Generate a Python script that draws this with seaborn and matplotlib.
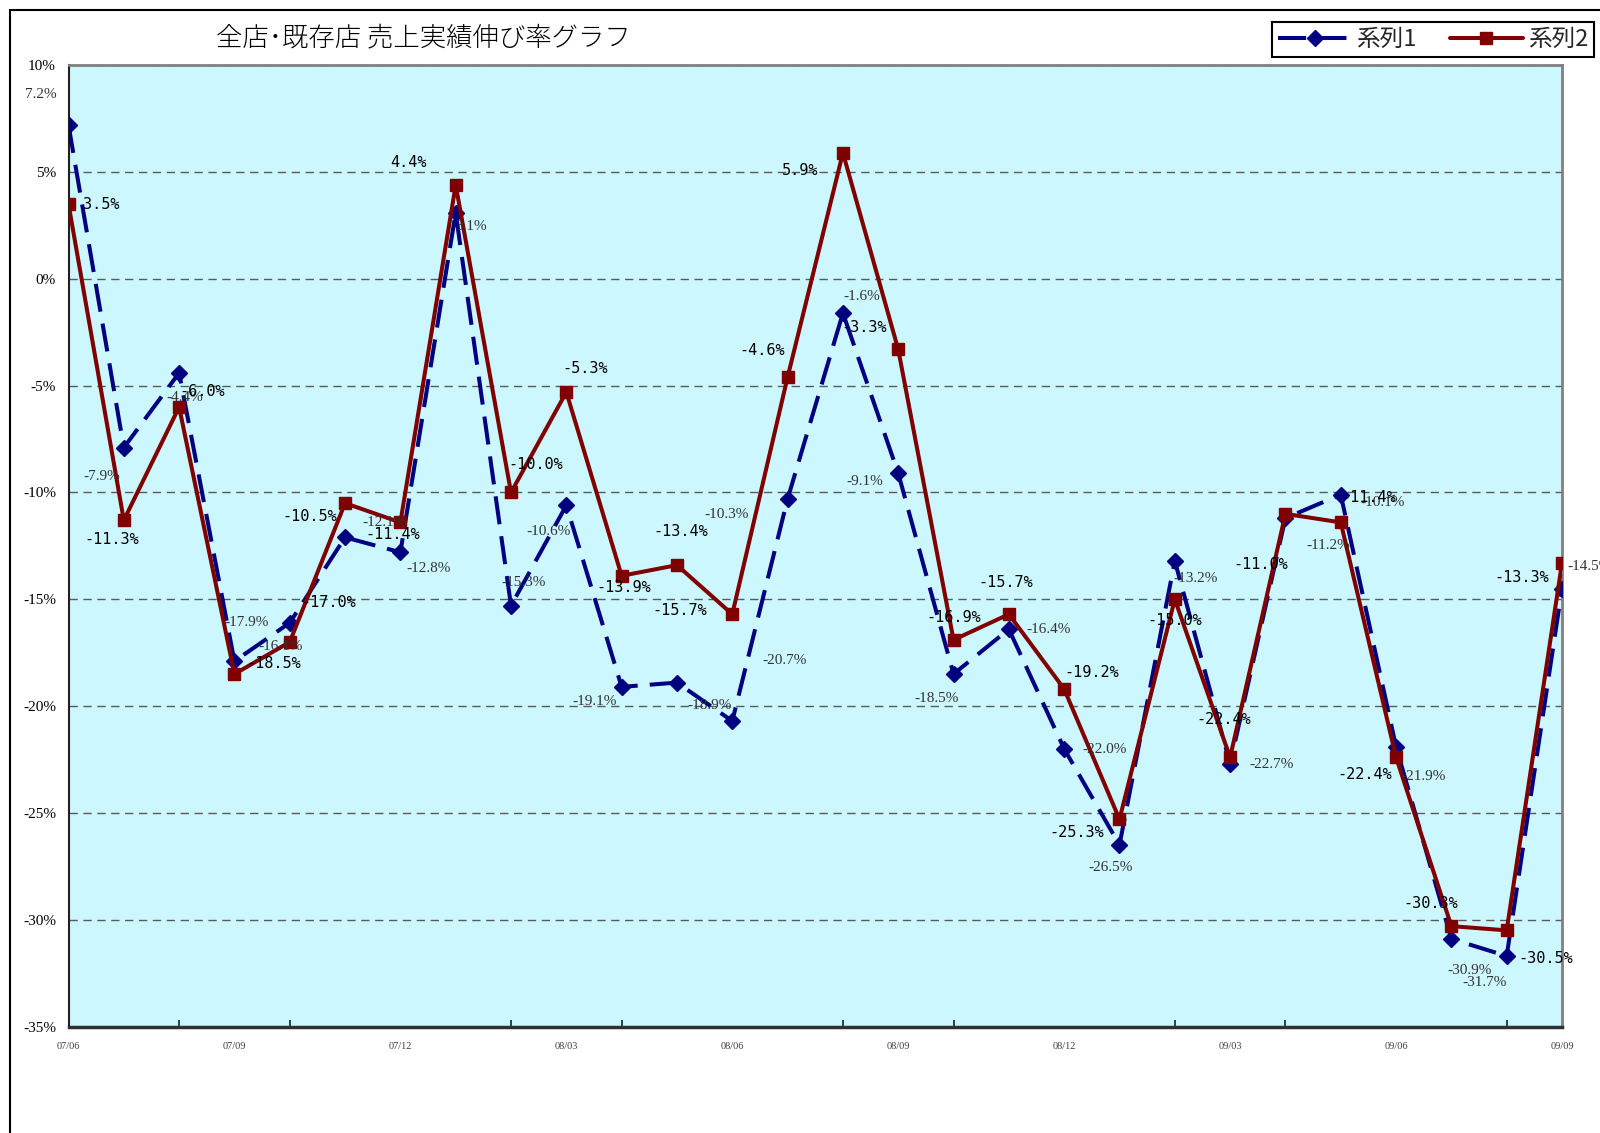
import matplotlib
matplotlib.use("Agg")
import matplotlib.pyplot as plt
import seaborn as sns
import pandas as pd
from matplotlib.patches import Rectangle
from matplotlib.lines import Line2D

# ---------------- data ----------------
months = ["07/06", "07/07", "07/08", "07/09", "07/10", "07/11", "07/12",
          "08/01", "08/02", "08/03", "08/04", "08/05", "08/06", "08/07",
          "08/08", "08/09", "08/10", "08/11", "08/12", "09/01", "09/02",
          "09/03", "09/04", "09/05", "09/06", "09/07", "09/08", "09/09"]
series1 = [7.2, -7.9, -4.4, -17.9, -16.1, -12.1, -12.8, 3.1, -15.3, -10.6,
           -19.1, -18.9, -20.7, -10.3, -1.6, -9.1, -18.5, -16.4, -22.0, -26.5,
           -13.2, -22.7, -11.2, -10.1, -21.9, -30.9, -31.7, -14.5]
series2 = [3.5, -11.3, -6.0, -18.5, -17.0, -10.5, -11.4, 4.4, -10.0, -5.3,
           -13.9, -13.4, -15.7, -4.6, 5.9, -3.3, -16.9, -15.7, -19.2, -25.3,
           -15.0, -22.4, -11.0, -11.4, -22.4, -30.3, -30.5, -13.3]
series_names = ["系列1", "系列2"]
title = "全店･既存店 売上実績伸び率グラフ"
y_ticks = [10, 5, 0, -5, -10, -15, -20, -25, -30, -35]

# label offsets (pixels) -- styling only
s1_off = [(-28, 31), (-22, -29), (6, -25), (12, 39), (-9, -24), (39, 15), (28, -16),
          (15, -14), (13, 23), (-18, -26), (-27, -15), (33, -23), (52, 61), (-61, -16),
          (19, 17), (-33, -8), (-17, -24), (40, 0), (40, -1), (-9, -23), (21, -18),
          (41, -1), (43, -27), (42, -8), (28, -30), (18, -32), (-22, -26), (28, 22)]
s2_off = [(33, 0), (-12, -19), (23, 16), (39, 11), (39, 40), (-35, -13), (-8, -12),
          (-47, 22), (25, 28), (19, 24), (2, -12), (4, 34), (-53, 4), (-25, 27),
          (-43, -18), (-34, 22), (0, 22), (-3, 32), (28, 17), (-43, -13), (0, -21),
          (-6, 38), (-25, -51), (28, 25), (-31, -17), (-21, 23), (39, -28), (-40, -15)]

# ---------------- style ----------------
sns.set_theme(style="white")
plt.rcParams['font.family'] = ['Noto Sans CJK JP', 'DejaVu Sans']

W, H = 1600, 1133
fig = plt.figure(figsize=(W / 100, H / 100), dpi=100)
L, R, T, B = 68.5, 1562, 65.3, 1026.5
ax = fig.add_axes([L / W, 1 - B / H, (R - L) / W, (B - T) / H])
ax.set_facecolor("#CCF7FF")

df = pd.DataFrame({"idx": list(range(len(months))), "month": months,
                   "s1": series1, "s2": series2})

sns.lineplot(data=df, x="idx", y="s1", ax=ax, color="#000080", marker="D",
             markersize=8, linewidth=2.9, linestyle=(0, (7, 3)),
             markeredgecolor="#000080", markeredgewidth=1, zorder=3)
sns.lineplot(data=df, x="idx", y="s2", ax=ax, color="#800000", marker="s",
             markersize=9, linewidth=2.9, markeredgecolor="#800000",
             markeredgewidth=1, zorder=4)

ax.set_xlim(0, len(months) - 1)
ax.set_ylim(-35, 10)
ax.set_xlabel("")
ax.set_ylabel("")

# grid
ax.set_axisbelow(True)
ax.xaxis.grid(False)
ax.yaxis.grid(True, linestyle=(0, (6, 4)), color="#5a5a5a", linewidth=1.0)

# spines
for s in ["top", "right"]:
    ax.spines[s].set_color("#808080")
    ax.spines[s].set_linewidth(2)
ax.spines["left"].set_color("#202020")
ax.spines["left"].set_linewidth(1.5)
ax.spines["bottom"].set_color("#303030")
ax.spines["bottom"].set_linewidth(2.5)

# y ticks
ax.set_yticks(y_ticks)
ax.set_yticklabels([f"{v}%" for v in y_ticks], fontfamily="Liberation Serif",
                   fontsize=11, color="black")
ax.tick_params(axis="y", length=0, pad=9)

# x ticks
lab_pos = list(range(0, len(months), 3))
ax.set_xticks(lab_pos)
ax.set_xticklabels([months[i] for i in lab_pos], fontfamily="Liberation Serif",
                   fontsize=7.5, color="#404040")
ax.set_xticks(list(range(0, len(months), 2)), minor=True)
ax.tick_params(axis="x", which="major", length=0, pad=11)
ax.tick_params(axis="x", which="minor", length=5, width=1.2, direction="in",
               color="#202020", bottom=True)

# data labels
for i, v in enumerate(series1):
    dx, dy = s1_off[i]
    ax.annotate(f"{v:.1f}%", xy=(i, v), xytext=(dx, dy), textcoords="offset pixels",
                ha="center", va="center", fontsize=11, color="#333333",
                fontfamily="Liberation Serif", zorder=6, annotation_clip=False)
for i, v in enumerate(series2):
    dx, dy = s2_off[i]
    ax.annotate(f"{v:.1f}%", xy=(i, v), xytext=(dx, dy), textcoords="offset pixels",
                ha="center", va="center", fontsize=11, color="black",
                fontfamily="DejaVu Sans Mono", zorder=6, annotation_clip=False)

# title
fig.text(423.5 / W, 1 - 37.8 / H, title, ha="center", va="center", fontsize=19,
         color="black", fontweight="light")

# legend
handles = [
    Line2D([], [], color="#000080", marker="D", markersize=8, linewidth=2.9,
           linestyle=(0, (7, 3))),
    Line2D([], [], color="#800000", marker="s", markersize=9, linewidth=2.9),
]
leg = fig.legend(handles, series_names, loc="upper left",
                 bbox_to_anchor=(1272 / W, 1 - 22.4 / H), ncol=2, frameon=True,
                 fancybox=False, edgecolor="black", framealpha=1, fontsize=17,
                 handlelength=3.1, handletextpad=0.22, columnspacing=1.4,
                 borderpad=0.25, borderaxespad=0)
leg.get_frame().set_linewidth(1.5)

# outer chart frame
fig.add_artist(Rectangle((10.2 / W, -0.5), 2, 0.5 + 1 - 10.2 / H,
                         transform=fig.transFigure, fill=False,
                         edgecolor="black", linewidth=1.5))

fig.savefig("out.png", dpi=100, facecolor="white")
